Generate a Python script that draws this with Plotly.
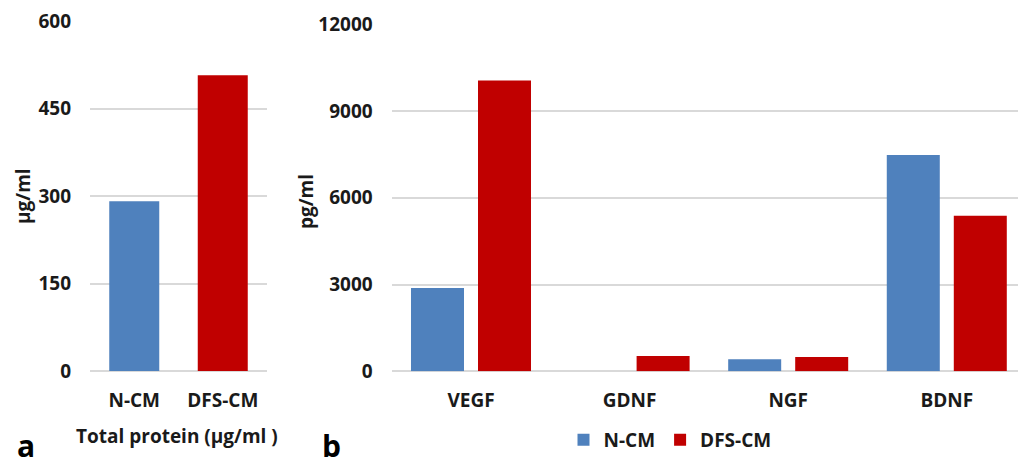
import plotly.graph_objects as go

# ---- data ----
total_cats = ["N-CM", "DFS-CM"]
total_vals = [291, 507]

factor_cats = ["VEGF", "GDNF", "NGF", "BDNF"]
ncm_vals = [2880, 0, 415, 7480]
dfs_vals = [10060, 530, 495, 5380]

a_ticks = [0, 150, 300, 450, 600]
b_ticks = [0, 3000, 6000, 9000, 12000]

BLUE = "#4F81BD"
RED = "#C00000"
GRID = "#D9D9D9"
TXT = "#1A1A1A"
FONT = "Open Sans"

W, H = 1018, 467

def px(x):
    return x / W

def py(y):
    return 1 - y / H

fig = go.Figure()

fig.add_trace(go.Bar(
    x=total_cats, y=total_vals, marker_color=[BLUE, RED], width=0.565,
    xaxis="x", yaxis="y", showlegend=False, marker_line_width=0,
))
fig.add_trace(go.Bar(
    x=factor_cats, y=ncm_vals, name="N-CM", marker_color=BLUE,
    xaxis="x2", yaxis="y2", marker_line_width=0,
))
fig.add_trace(go.Bar(
    x=factor_cats, y=dfs_vals, name="DFS-CM", marker_color=RED,
    xaxis="x2", yaxis="y2", marker_line_width=0,
))

tickfont = dict(family=FONT, size=19, color=TXT, weight="bold")

fig.update_layout(
    width=W, height=H,
    margin=dict(l=0, r=0, t=0, b=0),
    paper_bgcolor="white", plot_bgcolor="white",
    barmode="group", bargap=0.155, bargroupgap=0.209,
    font=dict(family=FONT, color=TXT),
    xaxis=dict(domain=[px(90), px(267)], range=[-0.5, 1.5], showgrid=False,
               showline=False, zeroline=False, tickfont=tickfont,
               ticklabelstandoff=16, automargin=False, anchor="y"),
    yaxis=dict(domain=[py(371), py(21)], range=[0, 600], tickvals=a_ticks,
               tickformat="d",
               showgrid=True, gridcolor=GRID, gridwidth=1.5, zeroline=True,
               zerolinecolor=GRID, zerolinewidth=1.5, showline=False,
               tickfont=tickfont, ticklabelstandoff=18, automargin=False,
               anchor="x"),
    xaxis2=dict(domain=[px(391.7), 1.0], range=[-0.5, 3.449], showgrid=False,
                showline=False, zeroline=False, tickfont=tickfont,
                ticklabelstandoff=16, automargin=False, anchor="y2"),
    yaxis2=dict(domain=[py(371.3), py(24.3)], range=[0, 12000], tickvals=b_ticks,
                tickformat="d",
                showgrid=True, gridcolor=GRID, gridwidth=1.5, zeroline=True,
                zerolinecolor=GRID, zerolinewidth=1.5, showline=False,
                tickfont=tickfont, ticklabelstandoff=18, automargin=False,
                anchor="x2"),
    legend=dict(orientation="h", x=px(670), y=py(440), xanchor="center",
                yanchor="middle", font=dict(family=FONT, size=19, color=TXT,
                                            weight="bold"),
                itemwidth=30, tracegroupgap=0, bgcolor="rgba(0,0,0,0)"),
)

ann_font = dict(family=FONT, size=19, color=TXT, weight="bold")
fig.add_annotation(text="µg/ml", x=px(23), y=py(196), xref="paper", yref="paper",
                   showarrow=False, textangle=-90, font=ann_font,
                   xanchor="center", yanchor="middle")
fig.add_annotation(text="pg/ml", x=px(306), y=py(202), xref="paper", yref="paper",
                   showarrow=False, textangle=-90, font=ann_font,
                   xanchor="center", yanchor="middle")
fig.add_annotation(text="Total protein (µg/ml )", x=px(177), y=py(436),
                   xref="paper", yref="paper", showarrow=False, font=ann_font,
                   xanchor="center", yanchor="middle")
big = dict(family=FONT, size=30, color="#000000", weight="bold")
fig.add_annotation(text="a", x=px(26), y=0, xref="paper", yref="paper",
                   showarrow=False, font=big, xanchor="center", yanchor="bottom",
                   borderpad=0)
fig.add_annotation(text="b", x=px(331), y=0, xref="paper", yref="paper",
                   showarrow=False, font=big, xanchor="center", yanchor="bottom",
                   borderpad=0)

fig.write_html("out.html", config={"displayModeBar": False},
               post_script="document.body.style.margin='0';document.body.style.overflow='hidden';")
